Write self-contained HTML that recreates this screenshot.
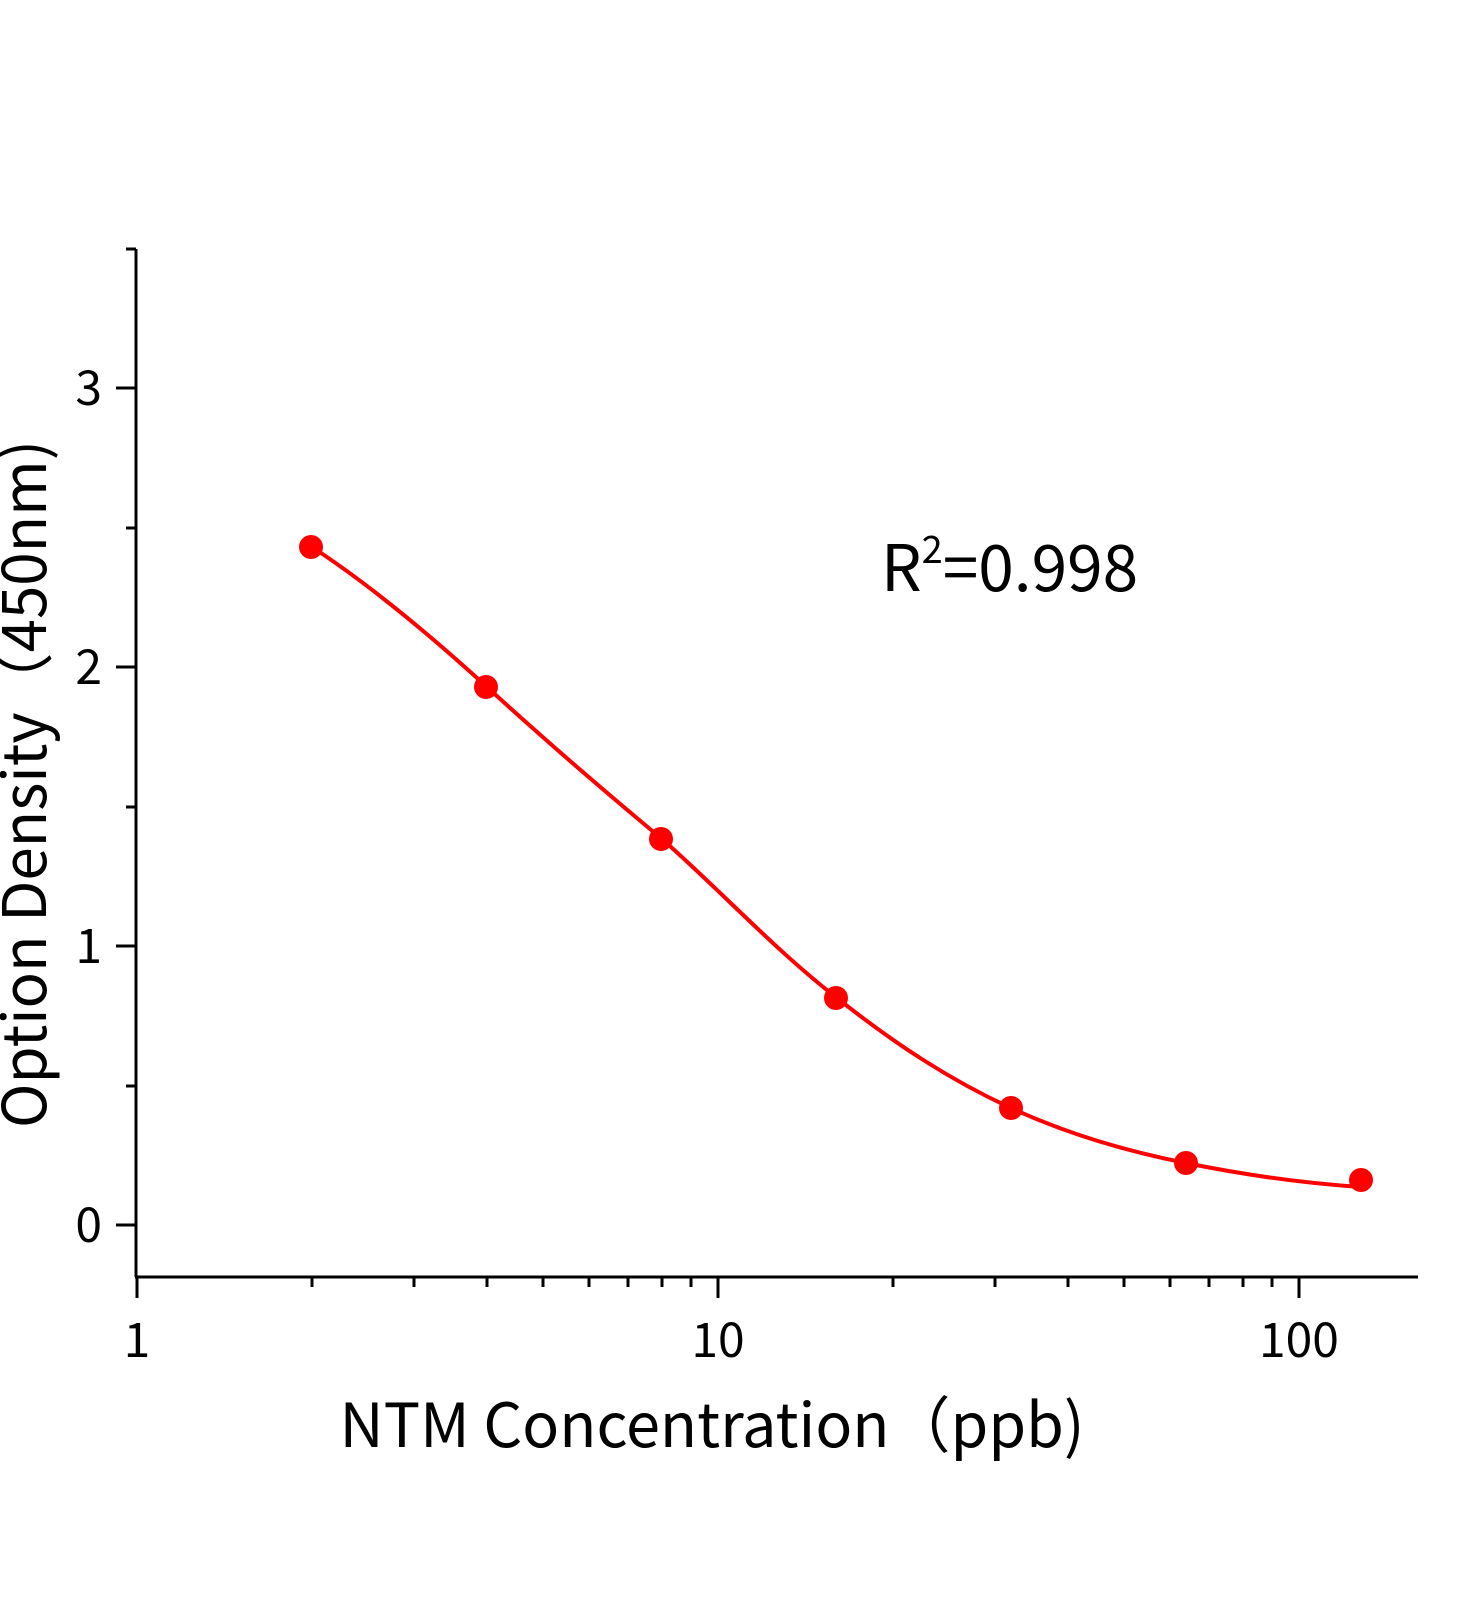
<!DOCTYPE html>
<html><head><meta charset="utf-8"><style>html,body{margin:0;padding:0;background:#fff}</style></head>
<body>
<svg width="1472" height="1600" viewBox="0 0 1472 1600" xmlns="http://www.w3.org/2000/svg" font-family="'Noto Sans CJK SC', 'Liberation Sans', sans-serif">
<rect width="1472" height="1600" fill="#fff"/>
<g stroke="#000" stroke-width="3" fill="none">
<line x1="136" y1="249" x2="136" y2="1277"/>
<line x1="135" y1="1277" x2="1418" y2="1277"/>
<line x1="116" y1="388" x2="136" y2="388"/>
<line x1="116" y1="667" x2="136" y2="667"/>
<line x1="116" y1="946" x2="136" y2="946"/>
<line x1="116" y1="1225" x2="136" y2="1225"/>
<line x1="126" y1="249" x2="136" y2="249"/>
<line x1="126" y1="528" x2="136" y2="528"/>
<line x1="126" y1="807" x2="136" y2="807"/>
<line x1="126" y1="1086" x2="136" y2="1086"/>
<line x1="137" y1="1277" x2="137" y2="1298"/>
<line x1="718" y1="1277" x2="718" y2="1298"/>
<line x1="1299" y1="1277" x2="1299" y2="1298"/>
<line x1="312" y1="1277" x2="312" y2="1287"/><line x1="414" y1="1277" x2="414" y2="1287"/><line x1="487" y1="1277" x2="487" y2="1287"/><line x1="543" y1="1277" x2="543" y2="1287"/><line x1="589" y1="1277" x2="589" y2="1287"/><line x1="628" y1="1277" x2="628" y2="1287"/><line x1="662" y1="1277" x2="662" y2="1287"/><line x1="691" y1="1277" x2="691" y2="1287"/>
<line x1="893" y1="1277" x2="893" y2="1287"/><line x1="995" y1="1277" x2="995" y2="1287"/><line x1="1068" y1="1277" x2="1068" y2="1287"/><line x1="1124" y1="1277" x2="1124" y2="1287"/><line x1="1170" y1="1277" x2="1170" y2="1287"/><line x1="1209" y1="1277" x2="1209" y2="1287"/><line x1="1243" y1="1277" x2="1243" y2="1287"/><line x1="1272" y1="1277" x2="1272" y2="1287"/>
</g>
<g font-size="48" fill="#000" text-anchor="end">
<text x="102" y="405">3</text>
<text x="102" y="684">2</text>
<text x="102" y="963">1</text>
<text x="102" y="1242">0</text>
</g>
<g font-size="48" fill="#000" text-anchor="middle">
<text x="137" y="1357">1</text>
<text x="718" y="1357">10</text>
<text x="1299" y="1357">100</text>
</g>
<text x="712" y="1447" font-size="61" text-anchor="middle">NTM Concentration（ppb)</text>
<text transform="translate(46,784) rotate(-90)" font-size="60" text-anchor="middle">Option Density（450nm)</text>
<text x="881" y="591" font-size="64">R<tspan font-size="38" dy="-28">2</tspan><tspan dy="28">=0.998</tspan></text>
<path d="M312,547 C370,585 430,635 487,687 C545,740 603,790 662,839 C720,890 775,950 837,998 C895,1044 950,1080 1011,1108 C1070,1135 1130,1152 1186,1163 C1240,1174 1300,1183 1361,1187" fill="none" stroke="#ff0000" stroke-width="4"/>
<g fill="#ff0000">
<circle cx="311" cy="547" r="12"/>
<circle cx="486" cy="687" r="12"/>
<circle cx="661" cy="839" r="12"/>
<circle cx="836" cy="998" r="12"/>
<circle cx="1011" cy="1108" r="12"/>
<circle cx="1186" cy="1163" r="12"/>
<circle cx="1361" cy="1180" r="12"/>
</g>
</svg>
</body></html>
